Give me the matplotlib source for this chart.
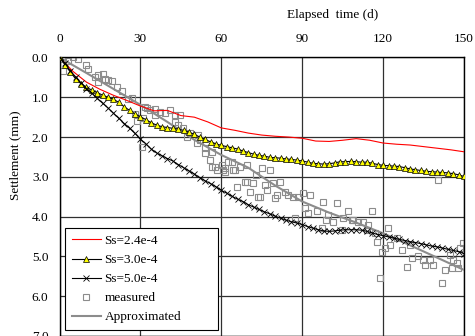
import matplotlib
matplotlib.use('Agg')
import matplotlib.pyplot as plt

plt.rcParams['font.family'] = ['Liberation Serif', 'DejaVu Serif']

# Ss=2.4e-4 (red line)
t_red = [0, 5, 10, 15, 20, 25, 30, 35, 40, 45, 50, 55, 60, 65, 70, 75, 80, 85, 90,
         95, 100, 105, 110, 115, 120, 125, 130, 135, 140, 145, 150]
s_red = [0, 0.35, 0.62, 0.8, 0.95, 1.08, 1.22, 1.34, 1.33, 1.46, 1.5, 1.62, 1.77, 1.83,
         1.9, 1.95, 1.98, 2.0, 2.03, 2.1, 2.11, 2.08, 2.04, 2.08, 2.15, 2.18, 2.2, 2.24,
         2.28, 2.32, 2.37]

# Ss=3.0e-4 and Ss=5.0e-4, read every 2 days
t_calc = list(range(0, 151, 2))
s_yellow = [0, 0.18, 0.36, 0.54, 0.66, 0.75, 0.82, 0.88, 0.95, 1.0, 1.05, 1.13, 1.24,
            1.33, 1.42, 1.49, 1.56, 1.64, 1.7, 1.74, 1.76, 1.78, 1.8, 1.83, 1.88, 1.93,
            2.0, 2.06, 2.12, 2.17, 2.21, 2.24, 2.27, 2.3, 2.35, 2.39, 2.43, 2.46, 2.48,
            2.51, 2.52, 2.53, 2.55, 2.56, 2.58, 2.6, 2.63, 2.66, 2.67, 2.68, 2.67, 2.65,
            2.62, 2.62, 2.61, 2.62, 2.63, 2.63, 2.66, 2.69, 2.71, 2.72, 2.73, 2.74, 2.77,
            2.8, 2.82, 2.84, 2.86, 2.87, 2.88, 2.89, 2.9, 2.92, 2.95, 2.99]
s_black = [0, 0.15, 0.33, 0.5, 0.64, 0.78, 0.9, 1.03, 1.15, 1.27, 1.4, 1.53, 1.66, 1.78,
           1.91, 2.05, 2.17, 2.3, 2.4, 2.47, 2.54, 2.6, 2.69, 2.77, 2.85, 2.93, 3.02, 3.1,
           3.17, 3.25, 3.34, 3.41, 3.49, 3.56, 3.62, 3.7, 3.76, 3.82, 3.88, 3.93, 3.99,
           4.04, 4.09, 4.13, 4.16, 4.2, 4.25, 4.29, 4.33, 4.36, 4.37, 4.36, 4.34, 4.33,
           4.33, 4.33, 4.34, 4.37, 4.41, 4.45, 4.48, 4.51, 4.54, 4.57, 4.6, 4.63, 4.65,
           4.68, 4.71, 4.74, 4.76, 4.79, 4.82, 4.85, 4.88, 4.93]

# measured points
t_meas = [1.4, 1.4, 3, 5.1, 7, 10, 10.7, 13.2, 14.4, 16.2, 16.9, 14.4, 18, 19.4, 21.2,
          23, 25.5, 26.8, 28, 28.6, 31.1, 31.7, 32.3, 33.6, 35.4, 35.4, 37.3, 39.1, 41,
          42.8, 44.7, 42.8, 44, 45.9, 47.2, 48.4, 50.9, 51.5, 52.1, 54, 54, 56.4, 55.8,
          56.4, 57.7, 58.3, 60.1, 60.7, 61.4, 61.4, 62.6, 63.8, 64.4, 65.1, 65.7, 67,
          68.8, 69.4, 69.4, 70.6, 71.9, 73, 73.7, 74.3, 75, 76.2, 76.8, 78, 79.3, 79.9,
          80.5, 81.8, 83.6, 84.8, 86.7, 87.3, 88.5, 90.4, 91, 92.3, 92.9, 95.4, 97.2,
          97.8, 99, 99.7, 101.5, 102.8, 104.6, 105.2, 107, 108.3, 109, 110.8, 112.6,
          113.9, 114.5, 115.8, 117, 117.6, 118.8, 119.5, 120.7, 121.9, 122.5, 125,
          126.9, 128.7, 130, 130.6, 133, 134.9, 135.5, 137.4, 138.6, 140.4, 141.7,
          142.9, 144.8, 146, 147.3, 147.9, 145.4, 148.5, 149.7, 30.5]
s_meas = [0.03, 0.34, 0.1, 0.0, 0.04, 0.2, 0.28, 0.49, 0.45, 0.41, 0.55, 0.62, 0.57,
          0.6, 0.75, 0.85, 1.05, 1.03, 1.41, 1.6, 1.52, 1.24, 1.26, 1.33, 1.3, 1.45,
          1.36, 1.4, 1.32, 1.44, 1.44, 1.61, 1.7, 1.78, 1.99, 1.9, 2.16, 1.95, 2.07,
          2.28, 2.41, 2.37, 2.58, 2.74, 2.74, 2.83, 2.7, 2.83, 2.78, 2.87, 2.62, 2.62,
          2.83, 2.83, 3.25, 2.74, 3.12, 2.7, 3.12, 3.37, 3.16, 2.95, 3.5, 3.5, 2.78, 3.2,
          3.33, 2.83, 3.16, 3.54, 3.45, 3.12, 3.37, 3.45, 3.5, 4.04, 3.5, 3.41, 3.79,
          3.92, 3.45, 3.87, 4.29, 3.62, 4.08, 3.96, 4.13, 3.65, 4.33, 4.04, 3.87, 4.08,
          4.08, 4.13, 4.13, 4.33, 4.21, 3.87, 4.42, 4.63, 5.55, 4.88, 4.8, 4.29, 4.71,
          4.54, 4.84, 5.26, 4.71, 5.05, 5.0, 5.09, 5.21, 5.09, 5.21, 3.08, 5.67, 5.34,
          4.96, 5.09, 5.17, 5.3, 5.3, 4.8, 4.67, 2.24]

# approximated line
t_appr = [0, 10, 20, 30, 40, 50, 60, 70, 80, 90, 100, 110, 120, 130, 140, 150]
s_appr = [0, 0.39, 0.79, 1.19, 1.62, 2.07, 2.45, 2.77, 3.22, 3.62, 3.9, 4.15, 4.42,
          4.72, 5.03, 5.34]

fig = plt.figure(figsize=(4.75, 3.36), dpi=100)
ax = fig.add_axes([0.1253, 0.0, 0.8516, 0.8289])

ax.plot(t_meas, s_meas, 's', ms=4, mfc='none', mec='#8c8c8c', mew=0.8,
        label='measured', zorder=2)
ax.plot(t_appr, s_appr, '-', color='#8c8c8c', lw=1.5, label='Approximated', zorder=3)
ax.plot(t_red, s_red, '-', color='red', lw=0.8, label='Ss=2.4e-4', zorder=4)
ax.plot(t_calc, s_yellow, '-^', color='black', lw=0.8, ms=4, mfc='yellow',
        mec='black', mew=0.5, label='Ss=3.0e-4', zorder=5)
ax.plot(t_calc, s_black, '-x', color='black', lw=0.8, ms=4, mew=0.6,
        label='Ss=5.0e-4', zorder=6)

ax.set_xlim(0, 150)
ax.set_ylim(7, 0)
ax.set_xticks([0, 30, 60, 90, 120, 150])
ax.set_yticks([0, 1, 2, 3, 4, 5, 6, 7])
ax.set_yticklabels(['%.1f' % v for v in [0, 1, 2, 3, 4, 5, 6, 7]])
ax.xaxis.tick_top()
ax.tick_params(axis='x', length=0, pad=9, labelsize=9.5)
ax.tick_params(axis='y', length=0, pad=8, labelsize=9.5)
ax.grid(True, color='#303030', lw=0.9)
for sp in ax.spines.values():
    sp.set_color('black')
    sp.set_linewidth(1)

fig.text(333 / 475, 1 - 15 / 336, 'Elapsed  time (d)', ha='center', va='center', fontsize=9.5)
fig.text(15 / 475, 1 - 155 / 336, 'Settlement (mm)', ha='center', va='center',
         rotation=90, fontsize=9.5)

handles, labels = ax.get_legend_handles_labels()
order = [2, 3, 4, 0, 1]
leg = ax.legend([handles[i] for i in order], [labels[i] for i in order],
                loc='lower left', bbox_to_anchor=(0.0136, 0.0215, 0.378, 0.3627),
                mode='expand', borderaxespad=0,
                fontsize=9.5, frameon=True, fancybox=False, framealpha=1,
                edgecolor='black', handlelength=2.2, handletextpad=0.3,
                labelspacing=0.52, borderpad=0.5)
leg.get_frame().set_linewidth(0.8)

fig.savefig('out.png', dpi=100)
